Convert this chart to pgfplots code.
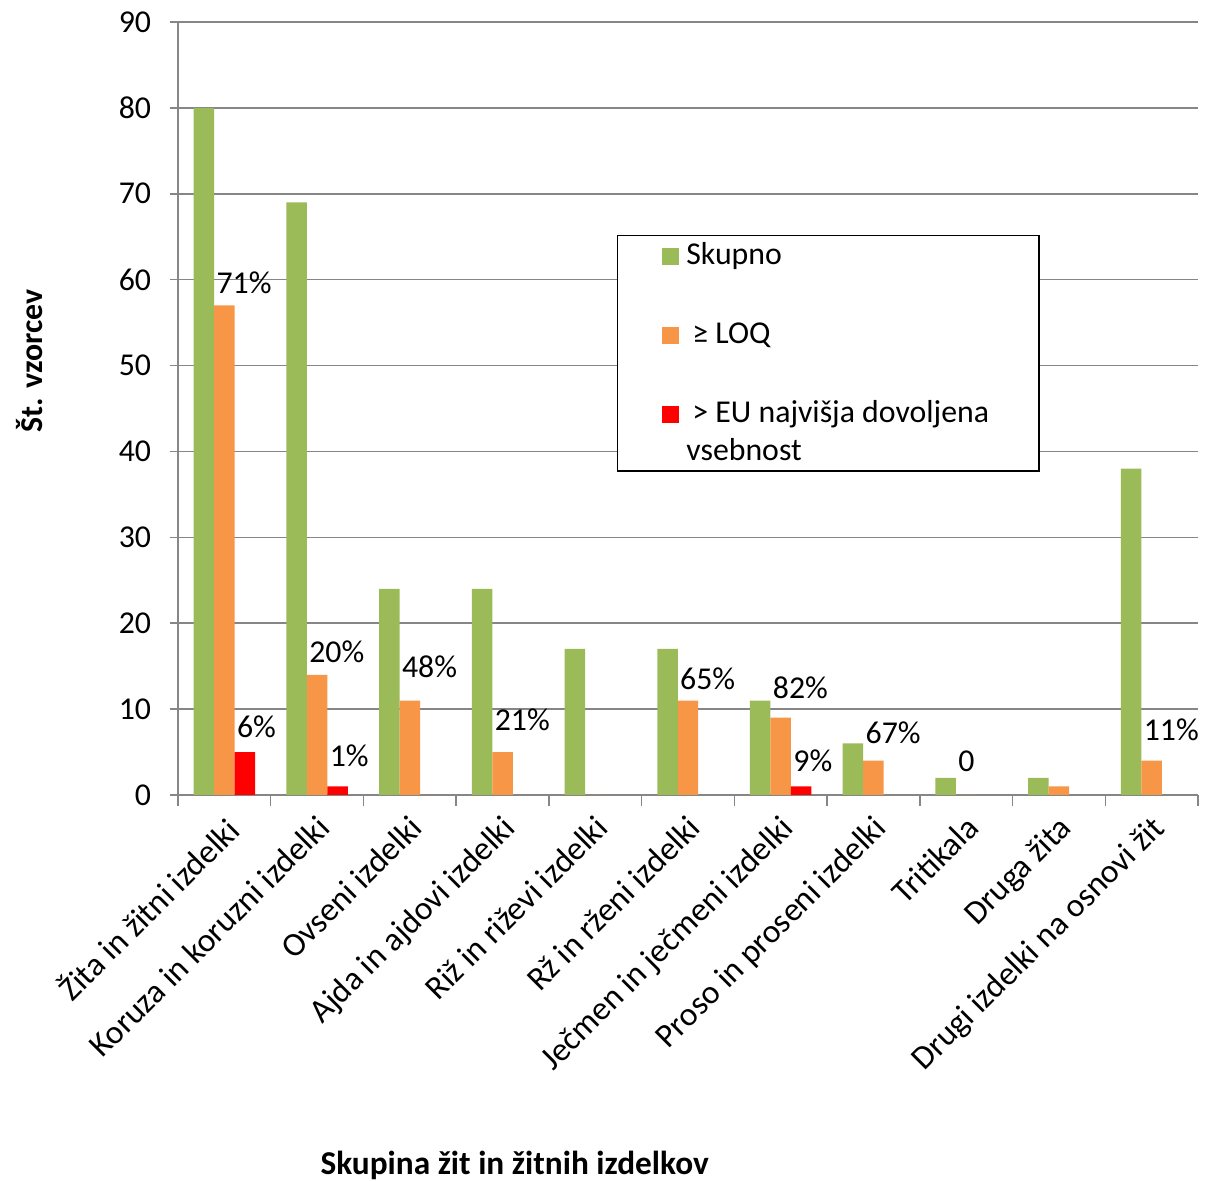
\documentclass[border=0pt]{standalone}
\usepackage{fontspec}
\setmainfont{Carlito}
\usepackage{pgfplots}
\usepackage{pgfplotstable}
\pgfplotsset{compat=1.18}
\definecolor{cgreen}{HTML}{9BBB59}
\definecolor{corange}{HTML}{F79646}
\definecolor{cred}{HTML}{FF0000}
\definecolor{axgray}{HTML}{868686}
\newcommand{\fs}{\fontsize{11.45pt}{13.8pt}\selectfont}
\newcommand{\fx}{\fontsize{12pt}{14.4pt}\selectfont}
\pgfplotstableread{
x green orange red olab rlab ody rdy
0 80 57 5 {71\%} {6\%} 4.0 5.0
1 69 14 1 {20\%} {1\%} 4.0 6.8
2 24 11 0 {48\%} {} 7.9 0
3 24 5 0 {21\%} {} 7.6 0
4 17 0 0 {} {} 0 0
5 17 11 0 {65\%} {} 3.6 0
6 11 9 1 {82\%} {9\%} 6.5 5.0
7 6 4 0 {67\%} {} 5.8 0
8 2 0 0 {0} {} 8.3 0
9 2 1 0 {} {} 0 0
10 38 4 0 {11\%} {} 6.8 0
}\datatable
\begin{document}
\begin{tikzpicture}
\path[use as bounding box] (0,0) rectangle (434.16pt,425.16pt);
\begin{axis}[
  at={(64.08pt,138.96pt)}, anchor=south west,
  scale only axis, width=367.2pt, height=278.28pt,
  xmin=-0.5, xmax=10.5, ymin=0, ymax=90,
  ybar=0pt, bar width=0.221,
  axis x line*=bottom, axis y line*=left,
  axis line style={-, draw=axgray, line width=0.55pt},
  ytick={0,10,...,90},
  ymajorgrids, grid style={draw=axgray, line width=0.55pt},
  xtick={0,...,10},
  minor xtick={-0.5,0.5,...,10.5},
  major x tick style={draw=none},
  tick style={draw=axgray, line width=0.55pt},
  tick align=outside,
  major tick length=3pt, minor tick length=4pt,
  xticklabels={{Žita in žitni izdelki},{Koruza in koruzni izdelki},{Ovseni izdelki},{Ajda in ajdovi izdelki},{Riž in riževi izdelki},{Rž in rženi izdelki},{Ječmen in ječmeni izdelki},{Proso in proseni izdelki},{Tritikala},{Druga žita},{Drugi izdelki na osnovi žit}},
  /pgf/number format/assume math mode=true,
  tick label style={font=\fs},
  yticklabel style={anchor=east, inner sep=0pt, xshift=-6.5pt},
  xticklabel style={font=\fx, yshift=-3.5pt, xshift=-0.7pt, rotate=45, anchor=north east, inner sep=0pt},
  every axis x label/.style={at={(axis description cs:0.330,-0.4786)}, anchor=center, font=\fx\bfseries},
  every axis y label/.style={at={(axis description cs:-0.1451,0.5614)}, rotate=90, anchor=center, font=\fs\bfseries},
  xlabel={Skupina žit in žitnih izdelkov},
  ylabel={Št. vzorcev},
  legend image code/.code={\fill[#1,draw=none] (0pt,0pt) rectangle (6.1pt,6.1pt);},
  legend style={at={(rel axis cs:0.4304,0.7245)}, anchor=north west, draw=black, line width=0.5pt,
    inner xsep=15.9pt, inner ysep=0.4pt, row sep=0pt, font=\fs,
    cells={anchor=base west, inner sep=0pt, text height=8pt},
    /tikz/every odd column/.append style={column sep=0.7pt}},
  nodes near coords style={font=\fs, anchor=south west, inner sep=0pt},
]
\addplot[fill=cgreen, draw=none] table[x=x,y=green]{\datatable};
\addlegendentry[text depth=16.44pt]{Skupno}
\addplot[fill=corange, draw=none, nodes near coords, point meta=explicit symbolic,
  visualization depends on={\thisrow{ody}\as\dy},
  every node near coord/.append style={xshift=-3pt, yshift=\dy pt}]
  table[x=x,y=orange,meta=olab]{\datatable};
\addlegendentry[text depth=16.44pt]{\hspace{2.2pt}≥ LOQ}
\addplot[fill=cred, draw=none, nodes near coords, point meta=explicit symbolic,
  unbounded coords=discard, y filter/.expression={y==0 ? nan : y},
  visualization depends on={\thisrow{rdy}\as\dy},
  every node near coord/.append style={xshift=-3pt, yshift=\dy pt}]
  table[x=x,y=red,meta=rlab]{\datatable};
\addlegendentry[text depth=1.82pt]{\hspace{2.2pt}> EU najvišja dovoljena}
\addlegendimage{empty legend}
\addlegendentry[text depth=1.16pt]{vsebnost}
\end{axis}
\end{tikzpicture}
\end{document}
